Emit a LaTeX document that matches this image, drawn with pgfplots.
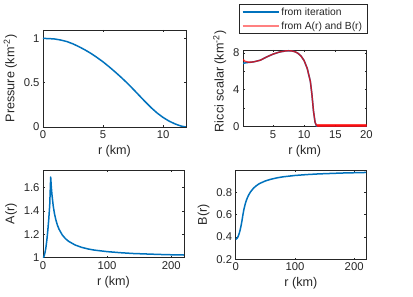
\documentclass[border=0pt]{standalone}
\usepackage{fontspec}
\setmainfont{Liberation Sans}
\usepackage{pgfplots}
\pgfplotsset{compat=1.18}
\definecolor{mblue}{RGB}{0,114,189}
\definecolor{axgray}{RGB}{38,38,38}
\definecolor{lpink}{RGB}{255,128,128}
\pgfplotsset{
  mat/.style={
    scale only axis,
    anchor=south west,
    axis line style={draw=axgray, line width=0.5pt},
    tick style={draw=axgray, line width=0.5pt},
    major tick length=1.6pt,
    tick align=inside,
    minor tick num=0,
    tick label style={font=\fontsize{11.3}{13}\selectfont, text=axgray},
    label style={font=\fontsize{12.6}{15}\selectfont, text=axgray},
    /pgf/number format/assume math mode=true,
    /pgf/number format/fixed,
    scaled ticks=false,
    every axis plot/.append style={line width=1.5pt, line join=round},
  }
}
\begin{document}
\begin{tikzpicture}
\useasboundingbox (0,0) rectangle (413pt,297pt);
% Pressure
\begin{axis}[mat, at={(43pt,170pt)}, width=143pt, height=97pt,
  xmin=0, xmax=11.9, ymin=0, ymax=1.095,
  xtick={0,5,10}, ytick={0,0.5,1},
  ylabel={Pressure (km\textsuperscript{-2})}, xlabel={r (km)}]
\addplot[mblue] coordinates {
(0,1.000) (0.5,0.998) (1,0.993) (1.5,0.981) (2,0.964) (2.5,0.938) (3,0.906)
(3.5,0.870) (4,0.830) (4.5,0.784) (5,0.735) (5.5,0.680) (6,0.622) (6.5,0.561)
(7,0.497) (7.5,0.428) (8,0.357) (8.5,0.286) (9,0.218) (9.5,0.158) (10,0.107)
(10.5,0.066) (11,0.034) (11.5,0.010) (11.9,0.000)};
\node[anchor=south west, inner sep=0pt, font=\fontsize{10.5}{12}\selectfont, text=axgray] at (rel axis cs:0,1) [yshift=2pt] {×10\textsuperscript{-4}};
\end{axis}
% Ricci
\begin{axis}[mat, at={(243pt,170.3pt)}, width=123.5pt, height=76.7pt,
  xmin=0.2, xmax=20, ymin=0, ymax=8.3,
  xtick={5,10,15,20}, ytick={0,2,4,6,8}, yticklabels={0,,4,,8},
  ylabel={Ricci scalar (km\textsuperscript{-2})}, xlabel={r (km)},
  ylabel style={at={(ticklabel cs:0.59)}},
  legend style={at={(0.486,1)}, anchor=south, yshift=16.2pt, draw=axgray,
    font=\fontsize{10.3}{12}\selectfont, text=axgray, row sep=1pt, inner xsep=3pt, inner ysep=1pt},
  legend cell align=left,
  legend image code/.code={\draw[mark repeat=2,mark phase=2,#1] plot coordinates {(0pt,0pt) (18pt,0pt) (36pt,0pt)};}]
\addplot[mblue] coordinates {
(0.2,6.85) (0.5,6.90) (1,6.95) (1.5,6.98) (2,7.03) (3,7.20) (4,7.55) (5,7.85)
(6,8.07) (7,8.20) (7.5,8.22) (8,8.20) (8.5,8.12) (9,7.95) (9.5,7.65) (10,7.15)
(10.5,6.30) (11,4.90) (11.25,3.50) (11.5,1.70) (11.75,0.50) (12,0.02) (12.5,0) (20,0)};
\addlegendentry{from iteration}
\addplot[red, opacity=0.75, line width=1.4pt, legend image post style={draw=lpink, opacity=1, line width=1.5pt}] coordinates {
(0.2,7.28) (0.5,7.08) (1,6.99) (1.5,6.98) (2,7.03) (3,7.20) (4,7.55) (5,7.85)
(6,8.07) (7,8.20) (7.5,8.22) (8,8.20) (8.5,8.12) (9,7.95) (9.5,7.65) (10,7.15)
(10.5,6.30) (11,4.90) (11.25,3.50) (11.5,1.70) (11.75,0.50) (12,0.10) (12.5,0.10) (20,0.10)};
\addlegendentry{from A(r) and B(r)}
\addplot[red, opacity=0.75, line width=2.6pt, forget plot] coordinates {(12,0.10) (20,0.10)};
\node[anchor=south west, inner sep=0pt, font=\fontsize{10.5}{12}\selectfont, text=axgray] at (rel axis cs:0,1) [yshift=2pt] {×10\textsuperscript{-3}};
\end{axis}
% A(r)
\begin{axis}[mat, at={(43pt,39.3pt)}, width=141pt, height=87.7pt,
  xmin=0, xmax=220, ymin=1, ymax=1.75,
  xtick={0,100,200}, ytick={1,1.2,1.4,1.6},
  ylabel={A(r)}, xlabel={r (km)}]
\addplot[mblue] coordinates {
(0,1.000) (1.5,1.010) (3,1.040) (4.5,1.085) (6,1.150) (7.5,1.232) (9,1.330) (10.5,1.450) (12,1.690)
(13,1.604) (14,1.538) (16,1.441) (18,1.374) (20,1.325) (22.5,1.278) (25,1.244) (30,1.195)
(35,1.163) (40,1.140) (50,1.109) (60,1.089) (70,1.075) (80,1.065) (100,1.052)
(120,1.043) (140,1.036) (160,1.032) (180,1.028) (200,1.025) (220,1.023)};
\end{axis}
% B(r)
\begin{axis}[mat, at={(235.7pt,37.7pt)}, width=130.3pt, height=89.3pt,
  xmin=0, xmax=220, ymin=0.2, ymax=1.0,
  xtick={0,100,200}, ytick={0.2,0.4,0.6,0.8},
  ylabel={B(r)}, xlabel={r (km)}]
\addplot[mblue] coordinates {
(0,0.380) (1.5,0.383) (3,0.393) (4.5,0.410) (6,0.433) (7.5,0.463) (9,0.499) (10.5,0.542) (12,0.592)
(13,0.623) (14,0.650) (16,0.694) (18,0.728) (20,0.755) (22.5,0.782) (25,0.804) (30,0.837)
(35,0.860) (40,0.878) (50,0.902) (60,0.918) (70,0.930) (80,0.939) (100,0.951)
(120,0.959) (140,0.965) (160,0.969) (180,0.973) (200,0.9755) (220,0.978)};
\end{axis}
\end{tikzpicture}
\end{document}
